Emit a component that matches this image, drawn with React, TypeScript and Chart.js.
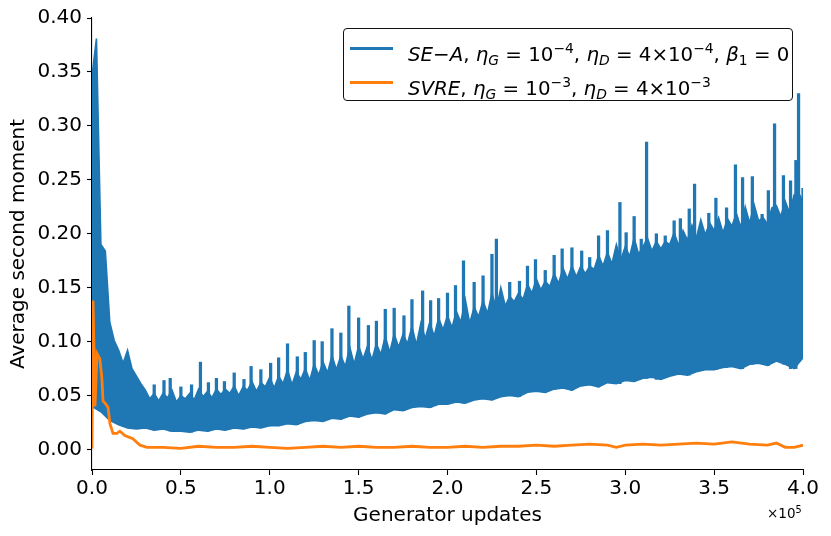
import { useEffect, useRef } from "react";
import { Chart, registerables } from "chart.js";

Chart.register(...registerables);

const BLUE = "#1f77b4";
const ORANGE = "#ff7f0e";
const FONT = "'DejaVu Sans', sans-serif";

// SE-A: ragged top of the dense part of the band, one value every 2500 updates
const SEA_STEP = 2500;
const seaTop = [
  0.346, 0.381, 0.19, 0.184, 0.118, 0.101, 0.092, 0.08, 0.092, 0.075,
  0.068, 0.061, 0.055, 0.047, 0.052, 0.045, 0.052, 0.048, 0.055, 0.044,
  0.05, 0.047, 0.052, 0.046, 0.056, 0.049, 0.054, 0.048, 0.056, 0.051,
  0.056, 0.052, 0.059, 0.05, 0.058, 0.055, 0.063, 0.054, 0.062, 0.058,
  0.067, 0.057, 0.068, 0.061, 0.074, 0.06, 0.072, 0.065, 0.075, 0.064,
  0.079, 0.069, 0.081, 0.071, 0.087, 0.074, 0.087, 0.077, 0.095, 0.079,
  0.096, 0.084, 0.096, 0.083, 0.098, 0.088, 0.105, 0.09, 0.107, 0.095,
  0.107, 0.098, 0.114, 0.097, 0.117, 0.103, 0.118, 0.105, 0.122, 0.111,
  0.124, 0.113, 0.128, 0.118, 0.139, 0.117, 0.132, 0.123, 0.138, 0.126,
  0.145, 0.13, 0.15, 0.133, 0.142, 0.137, 0.145, 0.139, 0.153, 0.145,
  0.158, 0.148, 0.156, 0.151, 0.163, 0.154, 0.168, 0.158, 0.17, 0.16,
  0.17, 0.163, 0.17, 0.167, 0.18, 0.17, 0.183, 0.172, 0.19, 0.176,
  0.188, 0.179, 0.196, 0.181, 0.188, 0.196, 0.184, 0.193, 0.186, 0.193,
  0.19, 0.201, 0.189, 0.203, 0.194, 0.208, 0.196, 0.213, 0.199, 0.21,
  0.203, 0.215, 0.201, 0.214, 0.207, 0.219, 0.206, 0.225, 0.21, 0.227,
  0.212, 0.215, 0.209, 0.224, 0.226, 0.216, 0.23, 0.219, 0.236, 0.238,
  0.23,
];

// SE-A: bottom edge of the band, one value every 5000 updates
const LOWER_STEP = 5000;
const seaLower = [
  0.04, 0.035, 0.027, 0.023, 0.02, 0.019, 0.02, 0.018, 0.019, 0.017,
  0.017, 0.016, 0.018, 0.017, 0.019, 0.018, 0.02, 0.019, 0.021, 0.02,
  0.022, 0.022, 0.024, 0.023, 0.026, 0.027, 0.026, 0.029, 0.028, 0.031,
  0.03, 0.033, 0.034, 0.033, 0.037, 0.036, 0.039, 0.04, 0.039, 0.042,
  0.042, 0.044, 0.043, 0.046, 0.047, 0.046, 0.049, 0.05, 0.049, 0.053,
  0.054, 0.053, 0.056, 0.057, 0.055, 0.059, 0.06, 0.058, 0.062, 0.061,
  0.064, 0.063, 0.066, 0.067, 0.065, 0.068, 0.07, 0.069, 0.072, 0.074,
  0.074, 0.076, 0.077, 0.075, 0.079, 0.08, 0.078, 0.082, 0.079, 0.075,
  0.085,
];

// SE-A: isolated spikes poking above the band
const spikeX = [
  35000, 40500, 44000, 50000, 56000, 61000, 65500, 70000, 74500, 80000,
  85500, 89500, 95000, 100500, 105000, 110000, 115500, 120000, 125000, 129500,
  135000, 140000, 144500, 150000, 155500, 160000, 165000, 170000, 175500, 180000,
  186000, 190500, 195000, 200000, 204500, 209000, 215000, 220000, 225000, 227500,
  235000, 240500, 245000, 249500, 255000, 260000, 264500, 270000, 275500, 280000,
  285000, 290000, 297000, 300500, 305000, 309000, 312000, 317500, 322500, 327500,
  331000, 336000, 339000, 347000, 351000, 357000, 362000, 366000, 371500, 377000,
  380500, 384000, 389000, 393000, 396000, 397500, 400000,
];
const spikeTop = [
  0.06, 0.064, 0.066, 0.058, 0.06, 0.081, 0.062, 0.066, 0.063, 0.071,
  0.065, 0.077, 0.074, 0.08, 0.085, 0.098, 0.086, 0.09, 0.101, 0.1,
  0.112, 0.108, 0.133, 0.122, 0.115, 0.119, 0.13, 0.131, 0.124, 0.139,
  0.147, 0.138, 0.14, 0.145, 0.152, 0.175, 0.155, 0.161, 0.181, 0.195,
  0.155, 0.156, 0.17, 0.176, 0.166, 0.18, 0.186, 0.187, 0.184, 0.178,
  0.198, 0.203, 0.229, 0.201, 0.216, 0.195, 0.285, 0.2, 0.198, 0.212,
  0.214, 0.223, 0.246, 0.219, 0.233, 0.224, 0.264, 0.252, 0.253, 0.218,
  0.24, 0.302, 0.254, 0.249, 0.268, 0.33, 0.242,
];

// SVRE
const svreX = [
  0, 600, 1700, 2800, 4400, 5500, 6200, 7800, 9000, 10100, 11800, 14000,
  15700, 18500, 23000, 27000, 31000, 40000, 50000, 60000, 70000, 80000,
  90000, 100000, 110000, 120000, 130000, 140000, 150000, 160000, 170000,
  180000, 190000, 200000, 210000, 220000, 230000, 240000, 250000, 260000,
  270000, 280000, 290000, 295000, 300000, 310000, 320000, 330000, 340000,
  350000, 360000, 370000, 380000, 385000, 390000, 395000, 400000,
];
const svreY = [
  0.001, 0.138, 0.04, 0.089, 0.084, 0.067, 0.045, 0.042, 0.039, 0.024,
  0.015, 0.015, 0.017, 0.013, 0.01, 0.004, 0.002, 0.002, 0.001, 0.003,
  0.002, 0.002, 0.003, 0.002, 0.001, 0.002, 0.003, 0.002, 0.003, 0.002,
  0.002, 0.003, 0.002, 0.002, 0.003, 0.002, 0.003, 0.003, 0.004, 0.003,
  0.004, 0.005, 0.004, 0.002, 0.004, 0.005, 0.004, 0.005, 0.006, 0.005,
  0.007, 0.005, 0.004, 0.006, 0.002, 0.002, 0.004,
];

const xTicks = [0, 50000, 100000, 150000, 200000, 250000, 300000, 350000, 400000];
const yTicks = [0, 0.05, 0.1, 0.15, 0.2, 0.25, 0.3, 0.35, 0.4];

const tickFont = { family: FONT, size: 20 };

export default function App() {
  const canvasRef = useRef<HTMLCanvasElement | null>(null);

  useEffect(() => {
    if (!canvasRef.current) return;
    const chart = new Chart(canvasRef.current, {
      type: "line",
      data: {
        datasets: [
          {
            label: "SVRE",
            data: svreX.map((x, i) => ({ x, y: svreY[i] })),
            borderColor: ORANGE,
            borderWidth: 2.8,
            pointRadius: 0,
            tension: 0,
            order: 0,
          },
          {
            label: "SE-A top",
            data: seaTop.map((y, i) => ({ x: i * SEA_STEP, y })),
            borderColor: BLUE,
            backgroundColor: BLUE,
            borderWidth: 1.6,
            pointRadius: 0,
            tension: 0,
            fill: "+1",
            order: 1,
          },
          {
            label: "SE-A lower",
            data: seaLower.map((y, i) => ({ x: i * LOWER_STEP, y })),
            borderColor: BLUE,
            borderWidth: 1.6,
            pointRadius: 0,
            tension: 0,
            fill: false,
            order: 2,
          },
          {
            type: "bar",
            label: "SE-A spikes",
            data: spikeX.map((x, i) => ({
              x,
              y: [seaLower[Math.round(x / LOWER_STEP)], spikeTop[i]],
            })),
            backgroundColor: BLUE,
            borderWidth: 0,
            barThickness: 2.6,
            order: 3,
          } as any,
        ],
      },
      options: {
        responsive: false,
        animation: false,
        events: [],
        layout: { padding: { top: 18, right: 28, left: 0, bottom: 0 } },
        plugins: { legend: { display: false }, tooltip: { enabled: false } },
        scales: {
          x: {
            type: "linear",
            min: 0,
            max: 400000,
            offset: false,
            afterBuildTicks: (s: any) => {
              s.ticks = xTicks.map((value) => ({ value }));
            },
            afterFit: (s: any) => {
              s.height = 66;
            },
            ticks: {
              color: "#000",
              font: tickFont,
              padding: 2,
              maxRotation: 0,
              callback: (v: any) => (Number(v) / 100000).toFixed(1),
            },
            grid: { drawOnChartArea: false, offset: false, color: "#000", tickLength: 5, tickWidth: 1.1 },
            border: { display: true, color: "#000", width: 1.1 },
            title: {
              display: true,
              text: "Generator updates",
              color: "#000",
              font: tickFont,
              padding: { top: 0, bottom: 8 },
            },
          },
          y: {
            type: "linear",
            min: -0.019,
            max: 0.4,
            afterBuildTicks: (s: any) => {
              s.ticks = yTicks.map((value) => ({ value }));
            },
            afterFit: (s: any) => {
              s.width = 92;
            },
            ticks: {
              color: "#000",
              font: tickFont,
              padding: 5,
              callback: (v: any) => Number(v).toFixed(2),
            },
            grid: { drawOnChartArea: false, color: "#000", tickLength: 5, tickWidth: 1.1 },
            border: { display: true, color: "#000", width: 1.1 },
            title: {
              display: true,
              text: "Average second moment",
              color: "#000",
              font: tickFont,
              padding: { top: 7, bottom: 0 },
            },
          },
        },
      },
    });
    return () => chart.destroy();
  }, []);

  const it = { fontStyle: "italic" as const };
  const sub = { fontSize: "0.7em", verticalAlign: "-0.3em" };
  const sup = { fontSize: "0.7em", verticalAlign: "0.55em" };

  return (
    <div
      style={{
        position: "fixed",
        left: 0,
        top: 0,
        width: 831,
        height: 536,
        background: "#fff",
        fontFamily: FONT,
        color: "#000",
      }}
    >
      <canvas ref={canvasRef} width={831} height={536} style={{ width: 831, height: 536 }} />

      <div
        style={{
          position: "absolute",
          left: 343,
          top: 28,
          width: 450,
          height: 73,
          boxSizing: "border-box",
          border: "1.2px solid #111",
          borderRadius: 4,
          background: "rgba(255,255,255,0.8)",
          fontSize: 19.8,
          whiteSpace: "nowrap",
        }}
      >
        <div style={{ position: "absolute", left: 6, top: 18, width: 43, height: 3, background: BLUE }} />
        <div style={{ position: "absolute", left: 64, top: 6, lineHeight: "26px" }}>
          <span style={it}>SE−A</span>, <span style={it}>η</span>
          <span style={{ ...sub, ...it }}>G</span> = 10<span style={sup}>−4</span>,{" "}
          <span style={it}>η</span>
          <span style={{ ...sub, ...it }}>D</span> = 4×10<span style={sup}>−4</span>,{" "}
          <span style={it}>β</span>
          <span style={sub}>1</span> = 0
        </div>
        <div style={{ position: "absolute", left: 6, top: 52, width: 43, height: 3, background: ORANGE }} />
        <div style={{ position: "absolute", left: 64, top: 40, lineHeight: "26px" }}>
          <span style={it}>SVRE</span>, <span style={it}>η</span>
          <span style={{ ...sub, ...it }}>G</span> = 10<span style={sup}>−3</span>,{" "}
          <span style={it}>η</span>
          <span style={{ ...sub, ...it }}>D</span> = 4×10<span style={sup}>−3</span>
        </div>
      </div>

      <div style={{ position: "absolute", left: 767, top: 502, fontSize: 13.5, lineHeight: "16px" }}>
        ×10<span style={{ fontSize: "0.72em", verticalAlign: "0.5em" }}>5</span>
      </div>
    </div>
  );
}
